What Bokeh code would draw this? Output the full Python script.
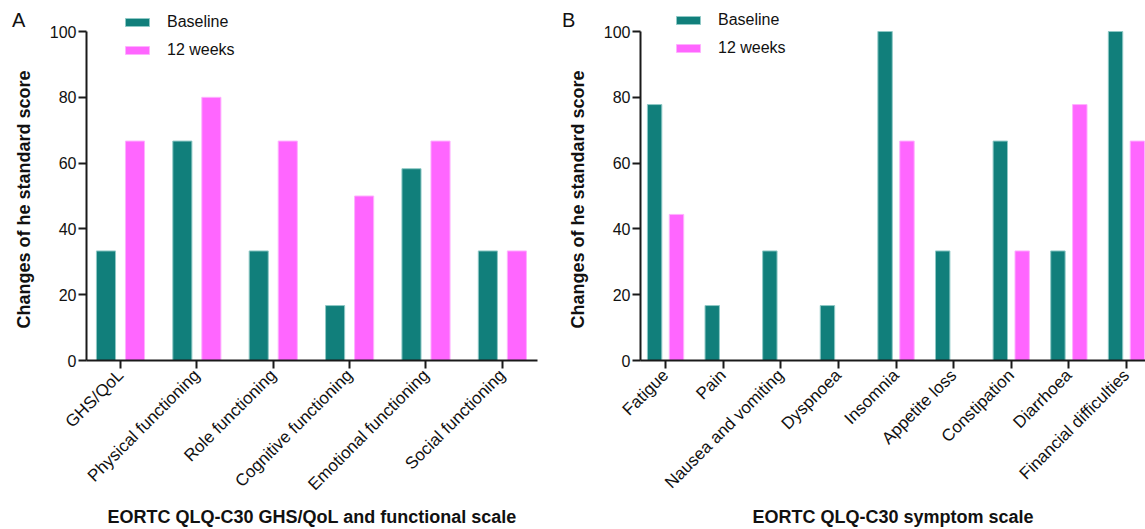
from math import pi
from bokeh.plotting import figure
from bokeh.layouts import row, column
from bokeh.models import Range1d, FixedTicker, ColumnDataSource, Legend, LegendItem, Div
from bokeh.transform import dodge
from bokeh.embed import file_html
from bokeh.resources import INLINE

# ---------------- data ----------------
cats_a = ["GHS/QoL", "Physical functioning", "Role functioning",
          "Cognitive functioning", "Emotional functioning", "Social functioning"]
base_a = [33.3, 66.7, 33.3, 16.7, 58.3, 33.3]
wk12_a = [66.7, 80.0, 66.7, 50.0, 66.7, 33.3]

cats_b = ["Fatigue", "Pain", "Nausea and vomiting", "Dyspnoea", "Insomnia",
          "Appetite loss", "Constipation", "Diarrhoea", "Financial difficulties"]
base_b = [77.8, 16.7, 33.3, 16.7, 100.0, 33.3, 66.7, 33.3, 100.0]
wk12_b = [44.4, 0.0, 0.0, 0.0, 66.7, 0.0, 33.3, 77.8, 66.7]

yticks = [0, 20, 40, 60, 80, 100]
series_names = ["Baseline", "12 weeks"]
ylabel = "Changes of he standard score"

TEAL = "#117F7B"
TEAL_EDGE = "#8fc9c6"
PINK = "#FF66FF"
PINK_EDGE = "#ffb0ff"
FONT = "Liberation Sans"
AXC = "#1a1a1a"
PAD = "\u00a0" * 6  # nudges the centred y label down to the 0-100 span


def panel(cats, base, wk, xlabel, width, bl, br, xr, xlab_standoff, leg_loc):
    n = len(cats)
    src = ColumnDataSource(dict(x=list(range(n)), base=base, wk=wk))
    p = figure(width=width, height=529, output_backend="svg", toolbar_location=None,
               x_range=Range1d(*xr), y_range=Range1d(0, 107),
               min_border_left=bl, min_border_right=br, min_border_top=8,
               min_border_bottom=169)
    p.outline_line_color = None
    p.grid.visible = False
    p.background_fill_color = "white"
    p.border_fill_alpha = 0

    r1 = p.vbar(x=dodge("x", -0.19), top="base", width=0.25, bottom=0, source=src,
                fill_color=TEAL, line_color=TEAL_EDGE, line_width=1)
    r2 = p.vbar(x=dodge("x", 0.19), top="wk", width=0.25, bottom=0, source=src,
                fill_color=PINK, line_color=PINK_EDGE, line_width=1)

    # axes
    p.yaxis.ticker = FixedTicker(ticks=yticks)
    p.yaxis.bounds = (0, 100)
    p.yaxis.minor_tick_line_color = None
    p.xaxis.ticker = FixedTicker(ticks=list(range(n)))
    p.xaxis.major_label_overrides = {i: c for i, c in enumerate(cats)}
    p.xaxis.major_label_orientation = pi / 4
    p.xaxis.minor_tick_line_color = None
    for ax in (p.xaxis, p.yaxis):
        ax.axis_line_color = AXC
        ax.axis_line_width = 2
        ax.major_tick_line_color = AXC
        ax.major_tick_line_width = 2
        ax.major_tick_out = 8
        ax.major_tick_in = 0
        ax.major_label_text_font = FONT
        ax.major_label_text_color = "#111111"
    p.yaxis.major_label_text_font_size = "16px"
    p.xaxis.major_label_text_font_size = "17px"
    p.yaxis.major_label_standoff = 2
    p.xaxis.major_label_standoff = 4

    p.yaxis.axis_label = ylabel + PAD
    p.yaxis.axis_label_text_font = FONT
    p.yaxis.axis_label_text_font_style = "bold"
    p.yaxis.axis_label_text_font_size = "18px"
    p.yaxis.axis_label_text_color = "#111111"
    p.yaxis.axis_label_standoff = 13

    p.xaxis.axis_label = xlabel
    p.xaxis.axis_label_text_font = FONT
    p.xaxis.axis_label_text_font_style = "bold"
    p.xaxis.axis_label_text_font_size = "18px"
    p.xaxis.axis_label_text_color = "#111111"
    p.xaxis.axis_label_standoff = xlab_standoff

    legend = Legend(items=[LegendItem(label=series_names[0], renderers=[r1]),
                           LegendItem(label=series_names[1], renderers=[r2])],
                    location=leg_loc)
    legend.label_text_font = FONT
    legend.label_text_font_size = "16px"
    legend.label_text_color = "#111111"
    legend.glyph_width = 30
    legend.glyph_height = 10
    legend.label_height = 20
    legend.label_standoff = 15
    legend.spacing = 8
    legend.padding = 0
    legend.margin = 0
    legend.border_line_color = None
    legend.background_fill_alpha = 0
    p.add_layout(legend, "center")
    return p


def letter(text, left):
    return Div(text=text, width=20, height=25, margin=(9, 0, -34, left),
               styles={"font-family": FONT, "font-size": "20px", "color": "#111111",
                       "position": "relative", "z-index": "5", "line-height": "normal"})


pa = panel(cats_a, base_a, wk12_a, "EORTC QLQ-C30 GHS/QoL and functional scale",
           558, 86, 21, (-0.445, 5.46), 3, (36, 300))
pb = panel(cats_b, base_b, wk12_b, "EORTC QLQ-C30 symptom scale",
           587, 82, 0, (-0.435, 8.33), 5, (33, 302))

layout = row(column(letter("A", 12), pa), column(letter("B", 4), pb))
open("out.html", "w").write(file_html(layout, INLINE))
